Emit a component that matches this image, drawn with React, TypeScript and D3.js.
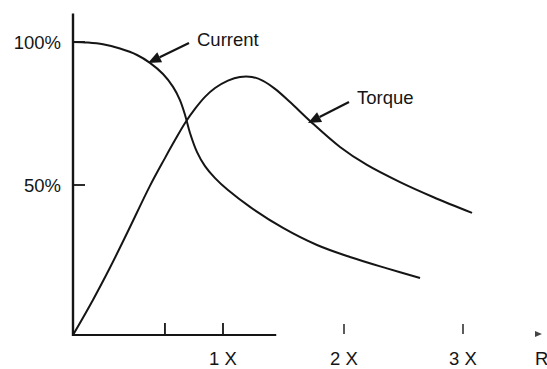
import React from "react";
import * as d3 from "d3";

const currentX = [0, 0.1, 0.2, 0.313, 0.427, 0.513, 0.6, 0.667, 0.713, 0.747, 0.78, 0.827, 0.88, 0.947, 1.041, 1.223, 1.496, 1.777, 2.05, 2.361, 2.639];
const currentY = [100, 99.8, 99.2, 97.7, 95.45, 92.7, 88.8, 84.3, 79.7, 74.5, 68.2, 61.5, 56.6, 52.4, 48.3, 42.7, 35.7, 30.0, 26.0, 22.2, 19.0];

const torqueX = [0, 0.133, 0.247, 0.36, 0.513, 0.613, 0.68, 0.747, 0.813, 0.88, 0.947, 1.041, 1.14, 1.24, 1.331, 1.43, 1.554, 1.719, 1.967, 2.193, 2.471, 2.748, 3.076];
const torqueY = [0, 11.7, 22.5, 33.9, 49.7, 59.4, 65.7, 71.7, 76.6, 80.8, 83.9, 86.5, 87.8, 87.8, 86.4, 83.6, 79.0, 72.4, 63.3, 57.0, 51.0, 46.0, 40.7];

const yTicks = [100, 50];
const yTickLabels = ["100%", "50%"];
const xTicksOnAxis = [0.613, 1];
const xTicksFree = [2, 3];
const xTickValues = [1, 2, 3];
const xTickLabels = ["1 X", "2 X", "3 X"];
const axisEndX = 1.44;
const yTop = 110;
const rPos = 3.63;

const W = 547;
const H = 369;

export default function App() {
  const x = d3.scaleLinear().domain([0, 1, 2, 3]).range([73, 223, 344, 463]);
  const y = d3.scaleLinear().domain([0, 50, 100]).range([335, 185, 42]);

  const line = d3
    .line<[number, number]>()
    .x((d) => x(d[0]))
    .y((d) => y(d[1]))
    .curve(d3.curveCatmullRom.alpha(0.5));

  const cur: [number, number][] = currentX.map((v, i) => [v, currentY[i]]);
  const tor: [number, number][] = torqueX.map((v, i) => [v, torqueY[i]]);

  const font = "'Liberation Sans', Arial, Helvetica, sans-serif";
  const ink = "#151515";
  const fs = 18.5;
  const labelY = 365;

  const arrow = (x1: number, y1: number, x2: number, y2: number) => {
    const ang = Math.atan2(y2 - y1, x2 - x1);
    const len = 13;
    const wid = 5.5;
    const bx = x2 - len * Math.cos(ang);
    const by = y2 - len * Math.sin(ang);
    const px = -Math.sin(ang);
    const py = Math.cos(ang);
    return (
      <g>
        <line x1={x1} y1={y1} x2={bx} y2={by} stroke={ink} strokeWidth={2.2} />
        <path
          d={`M${x2},${y2}L${bx + px * wid},${by + py * wid}L${bx - px * wid},${by - py * wid}Z`}
          fill={ink}
        />
      </g>
    );
  };

  return (
    <div style={{ position: "absolute", left: 0, top: 0 }}>
      <svg width={W} height={H} style={{ display: "block", background: "#fff" }}>
        {/* y axis */}
        <line x1={x(0)} y1={y(yTop)} x2={x(0)} y2={y(0) + 1} stroke={ink} strokeWidth={2.4} />
        {yTicks.map((t, i) => (
          <g key={t}>
            <line x1={x(0)} x2={x(0) + 12} y1={y(t)} y2={y(t)} stroke={ink} strokeWidth={1.8} />
            <text
              x={x(0) - 12}
              y={y(t)}
              dy="0.36em"
              textAnchor="end"
              fontFamily={font}
              fontSize={fs}
              fill={ink}
            >
              {yTickLabels[i]}
            </text>
          </g>
        ))}
        {/* x axis */}
        <line x1={x(0) - 1} y1={y(0)} x2={x(axisEndX)} y2={y(0)} stroke={ink} strokeWidth={2.2} />
        {xTicksOnAxis.map((t) => (
          <line key={t} x1={x(t)} x2={x(t)} y1={y(0)} y2={y(0) - 12} stroke={ink} strokeWidth={1.8} />
        ))}
        {xTicksFree.map((t) => (
          <line key={t} x1={x(t)} x2={x(t)} y1={y(0) - 11} y2={y(0) - 1} stroke="#333" strokeWidth={1.6} />
        ))}
        {xTickValues.map((t, i) => (
          <text
            key={t}
            x={x(t)}
            y={labelY}
            textAnchor="middle"
            fontFamily={font}
            fontSize={fs}
            fill={ink}
          >
            {xTickLabels[i]}
          </text>
        ))}
        <path
          d={`M${x(rPos) - 3},${y(0) - 4}L${x(rPos) + 4},${y(0) - 1}L${x(rPos) - 3},${y(0) + 2}Z`}
          fill="#444"
        />
        <text x={x(rPos) - 3} y={labelY} fontFamily={font} fontSize={fs} fill={ink}>
          R
        </text>

        {/* curves */}
        <path d={line(cur) || ""} fill="none" stroke={ink} strokeWidth={2} />
        <path d={line(tor) || ""} fill="none" stroke={ink} strokeWidth={2} />

        {/* annotations */}
        <text x={197} y={46} fontFamily={font} fontSize={fs} fill={ink}>
          Current
        </text>
        {arrow(189, 43, 148, 63)}
        <text x={357} y={104} fontFamily={font} fontSize={fs} fill={ink}>
          Torque
        </text>
        {arrow(349, 102, 308, 123)}
      </svg>
    </div>
  );
}
